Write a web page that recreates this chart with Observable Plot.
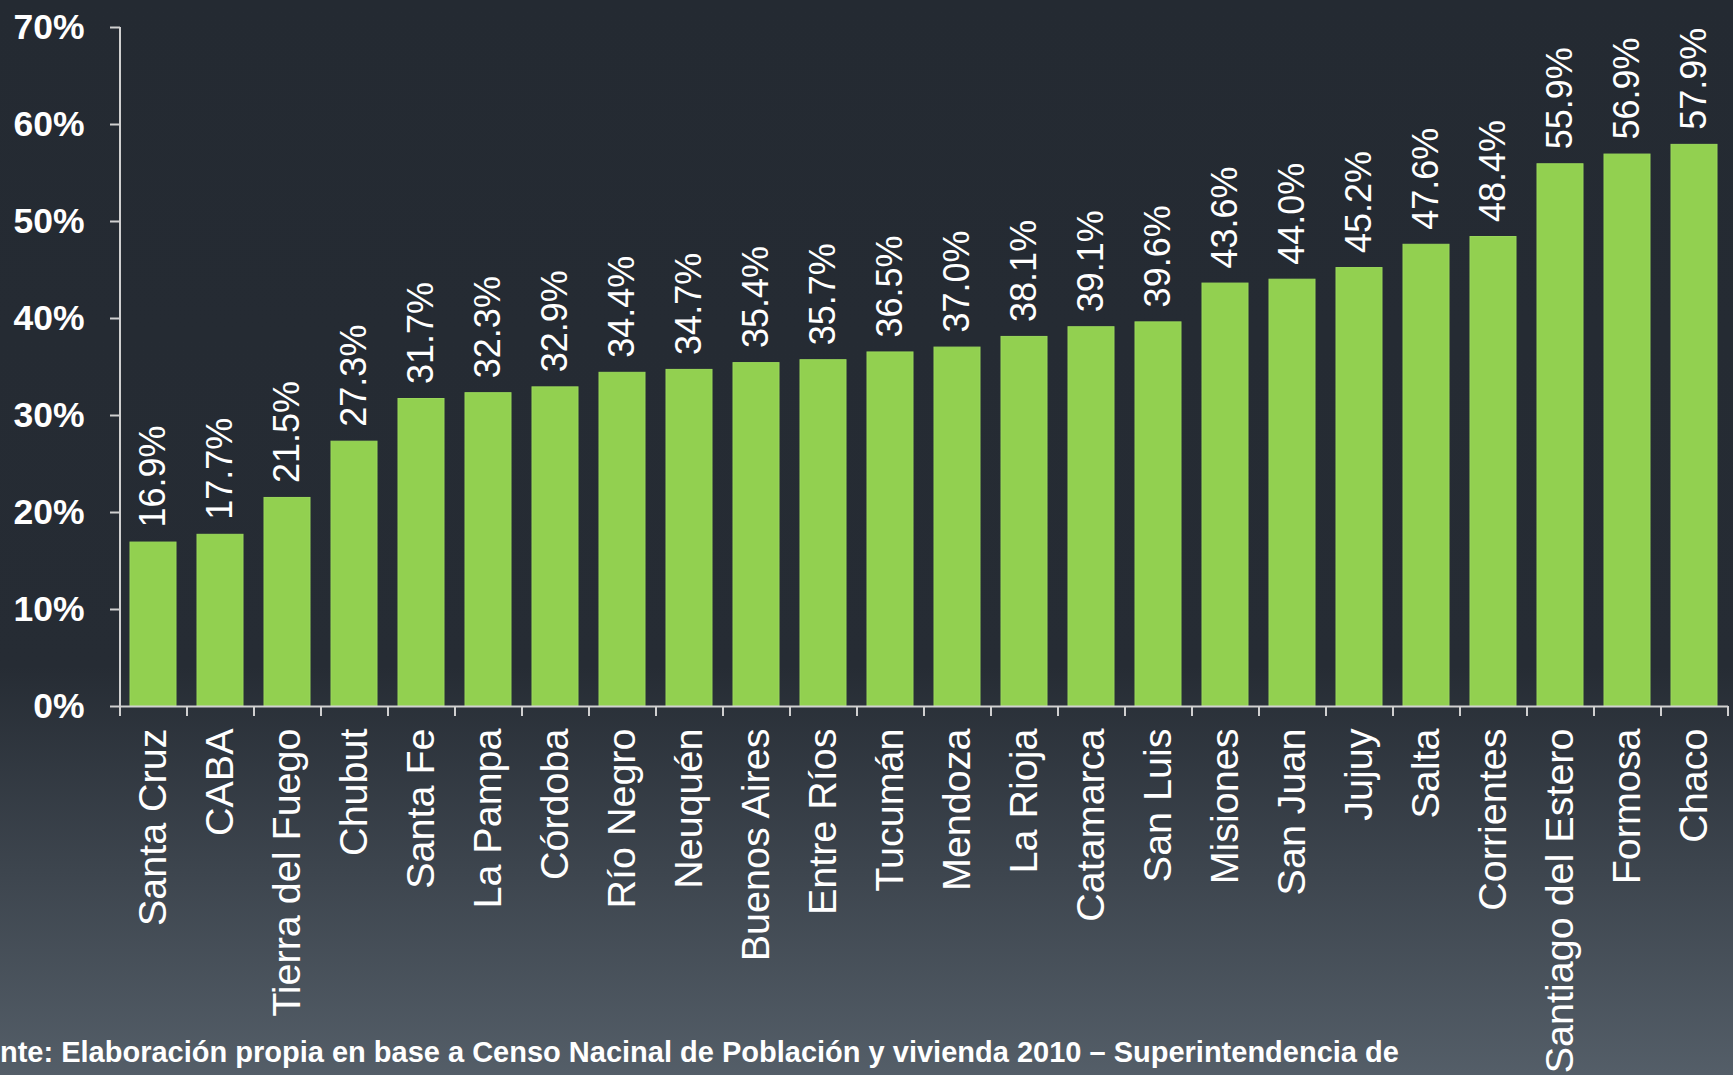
<!DOCTYPE html>
<html>
<head>
<meta charset="utf-8">
<script src="https://cdn.jsdelivr.net/npm/d3@7"></script>
<script src="https://cdn.jsdelivr.net/npm/@observablehq/plot@0.6"></script>
<style>
  html, body { margin: 0; padding: 0; overflow: hidden; }
  body {
    width: 1733px; height: 1075px; position: relative;
    background: linear-gradient(to bottom, #242a32 0%, #262c34 62%, #545e68 100%);
    font-family: "Liberation Sans", Arial, sans-serif;
  }
  #chart { position: absolute; left: 0; top: 0; }
  #caption {
    position: absolute; left: 0; top: 1036px;
    color: #ffffff; font-weight: bold; font-size: 29px; white-space: nowrap;
    font-family: "Liberation Sans", Arial, sans-serif;
  }
</style>
</head>
<body>
<div id="chart"></div>
<div id="caption">nte: Elaboración propia en base a Censo Nacinal de Población y vivienda 2010 – Superintendencia de</div>
<script>
const provinces = ["Santa Cruz","CABA","Tierra del Fuego","Chubut","Santa Fe","La Pampa","Córdoba","Río Negro","Neuquén","Buenos Aires","Entre Ríos","Tucumán","Mendoza","La Rioja","Catamarca","San Luis","Misiones","San Juan","Jujuy","Salta","Corrientes","Santiago del Estero","Formosa","Chaco"];
const values = [16.9,17.7,21.5,27.3,31.7,32.3,32.9,34.4,34.7,35.4,35.7,36.5,37.0,38.1,39.1,39.6,43.6,44.0,45.2,47.6,48.4,55.9,56.9,57.9];
const yTicks = [0,10,20,30,40,50,60,70];

const data = provinces.map((name, i) => ({name, value: values[i]}));

const W = 1733, H = 1075, mL = 120, mR = 5, mT = 27, mB = 369;
const step = (W - mL - mR) / provinces.length;
const plotH = H - mT - mB;
const axisColor = "#d0d0d0";
const font = "'Liberation Sans', Arial, sans-serif";

const chart = Plot.plot({
  width: W, height: H,
  marginLeft: mL, marginRight: mR, marginTop: mT, marginBottom: mB,
  style: {background: "transparent", color: "#ffffff", fontFamily: font, overflow: "visible"},
  x: {type: "band", domain: provinces, paddingInner: 0.31, paddingOuter: 0.155},
  y: {domain: [0, 70]},
  marks: [
    Plot.barY(data, {x: "name", y: "value", fill: "#92d050", stroke: "#9ad85a", strokeWidth: 1}),
    Plot.text(data, {x: "name", y: "value", text: d => d.value.toFixed(1) + "%", rotate: -90,
      textAnchor: "start", lineAnchor: "middle", dy: -15, fill: "#ffffff", fontSize: 36, fontFamily: font}),
    Plot.ruleX([provinces[0]], {x: d => d, dx: -step / 2, y1: 0, y2: 70, stroke: axisColor, strokeWidth: 2}),
    Plot.ruleY([0], {stroke: axisColor, strokeWidth: 2}),
    Plot.ruleX(provinces, {x: d => d, dx: -step / 2, insetTop: plotH, insetBottom: -10, stroke: axisColor, strokeWidth: 2}),
    Plot.ruleX([provinces[provinces.length - 1]], {x: d => d, dx: step / 2, insetTop: plotH, insetBottom: -10, stroke: axisColor, strokeWidth: 2}),
    Plot.axisY({ticks: yTicks, tickFormat: d => d + "%", tickSize: 10, tickPadding: 26,
      stroke: axisColor, strokeWidth: 2, fill: "#ffffff", fontSize: 35.5, fontWeight: "bold", fontFamily: font, label: null}),
    Plot.axisX({tickSize: 0, tickRotate: -90, tickPadding: 22, fill: "#ffffff", fontSize: 39.5, fontFamily: font, label: null})
  ]
});
document.getElementById("chart").appendChild(chart);
</script>
</body>
</html>
